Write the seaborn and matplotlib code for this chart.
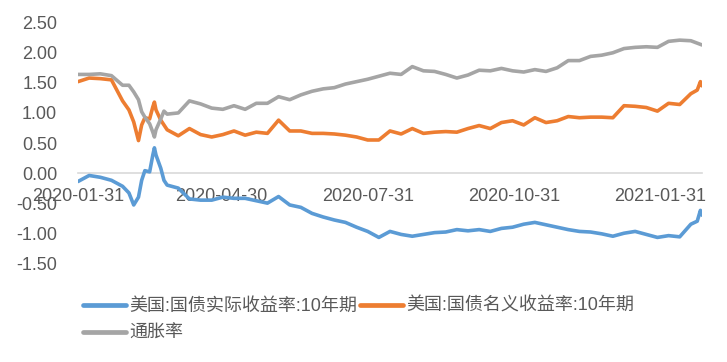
import pandas as pd
import matplotlib
matplotlib.use("Agg")
import matplotlib.pyplot as plt
import matplotlib.dates as mdates
import seaborn as sns

# data (weekly, denser around March 2020 and late Feb 2021)
dates = [
    '2020-01-31', '2020-02-07', '2020-02-14', '2020-02-21', '2020-02-28',
    '2020-03-03', '2020-03-06', '2020-03-09', '2020-03-11', '2020-03-13',
    '2020-03-16', '2020-03-18', '2020-03-19', '2020-03-20', '2020-03-23',
    '2020-03-25', '2020-03-27', '2020-04-03', '2020-04-10', '2020-04-17',
    '2020-04-24', '2020-05-01', '2020-05-08', '2020-05-15', '2020-05-22',
    '2020-05-29', '2020-06-05', '2020-06-12', '2020-06-19', '2020-06-26',
    '2020-07-03', '2020-07-10', '2020-07-17', '2020-07-24', '2020-07-31',
    '2020-08-07', '2020-08-14', '2020-08-21', '2020-08-28', '2020-09-04',
    '2020-09-11', '2020-09-18', '2020-09-25', '2020-10-02', '2020-10-09',
    '2020-10-16', '2020-10-23', '2020-10-30', '2020-11-06', '2020-11-13',
    '2020-11-20', '2020-11-27', '2020-12-04', '2020-12-11', '2020-12-18',
    '2020-12-25', '2021-01-01', '2021-01-08', '2021-01-15', '2021-01-22',
    '2021-01-29', '2021-02-05', '2021-02-12', '2021-02-19', '2021-02-23',
    '2021-02-25', '2021-02-26',
]

real_yield = [
    -0.14, -0.04, -0.07, -0.12, -0.22, -0.33, -0.53, -0.40, -0.12, 0.04,
    0.02, 0.30, 0.42, 0.30, 0.08, -0.12, -0.20, -0.25, -0.43, -0.45,
    -0.45, -0.40, -0.42, -0.42, -0.46, -0.50, -0.39, -0.53, -0.57, -0.67,
    -0.73, -0.78, -0.82, -0.90, -0.97, -1.07, -0.97, -1.02, -1.05, -1.02,
    -0.99, -0.98, -0.94, -0.96, -0.94, -0.97, -0.92, -0.90, -0.85, -0.82,
    -0.86, -0.90, -0.94, -0.97, -0.98, -1.01, -1.05, -1.00, -0.97, -1.02,
    -1.07, -1.04, -1.06, -0.85, -0.80, -0.62, -0.70,
]

nominal_yield = [
    1.52, 1.58, 1.57, 1.55, 1.20, 1.05, 0.85, 0.54, 0.80, 0.92,
    0.90, 1.10, 1.18, 1.05, 0.88, 0.80, 0.72, 0.62, 0.74, 0.64,
    0.60, 0.64, 0.70, 0.63, 0.68, 0.66, 0.88, 0.70, 0.70, 0.66,
    0.66, 0.65, 0.63, 0.60, 0.55, 0.55, 0.70, 0.65, 0.74, 0.66,
    0.68, 0.69, 0.68, 0.74, 0.79, 0.74, 0.84, 0.87, 0.80, 0.92,
    0.84, 0.87, 0.94, 0.92, 0.93, 0.93, 0.92, 1.12, 1.11, 1.09,
    1.03, 1.16, 1.14, 1.32, 1.38, 1.52, 1.45,
]

inflation = [
    1.64, 1.64, 1.65, 1.62, 1.46, 1.46, 1.35, 1.22, 1.02, 0.93,
    0.82, 0.68, 0.60, 0.72, 0.90, 1.03, 0.98, 1.00, 1.20, 1.15,
    1.08, 1.06, 1.12, 1.06, 1.16, 1.16, 1.27, 1.22, 1.30, 1.36,
    1.40, 1.42, 1.48, 1.52, 1.56, 1.61, 1.66, 1.64, 1.77, 1.70,
    1.69, 1.64, 1.58, 1.63, 1.71, 1.70, 1.74, 1.70, 1.68, 1.72,
    1.69, 1.75, 1.87, 1.87, 1.94, 1.96, 2.00, 2.07, 2.09, 2.10,
    2.09, 2.19, 2.21, 2.20, 2.16, 2.14, 2.13,
]

series_names = ['美国:国债实际收益率:10年期', '美国:国债名义收益率:10年期', '通胀率']
colors = ['#5B9BD5', '#ED7D31', '#A5A5A5']
tick_dates = ['2020-01-31', '2020-04-30', '2020-07-31', '2020-10-31', '2021-01-31']
y_ticks = [-1.5, -1.0, -0.5, 0.0, 0.5, 1.0, 1.5, 2.0, 2.5]

frames = []
for name, vals in zip(series_names, [real_yield, nominal_yield, inflation]):
    frames.append(pd.DataFrame({'date': pd.to_datetime(dates), 'value': vals, 'series': name}))
df = pd.concat(frames, ignore_index=True)

sns.set_style("white")
plt.rcParams['font.family'] = ['Liberation Sans', 'Noto Sans CJK SC', 'DejaVu Sans']
plt.rcParams['axes.unicode_minus'] = False

fig = plt.figure(figsize=(7.27, 3.62), dpi=100)
ax = fig.add_axes([78 / 727, 1 - 263.3 / 362, 624 / 727, 240.6 / 362])

sns.lineplot(data=df, x='date', y='value', hue='series', hue_order=series_names,
             palette=colors, linewidth=2.6, ax=ax)

ax.set_xlim(pd.Timestamp('2020-01-31'), pd.Timestamp('2021-02-26'))
ax.set_ylim(-1.5, 2.5)
ax.set_yticks(y_ticks)
ax.yaxis.set_major_formatter(matplotlib.ticker.FormatStrFormatter('%.2f'))
ax.set_xticks(pd.to_datetime(tick_dates))
ax.xaxis.set_major_formatter(mdates.DateFormatter('%Y-%m-%d'))
ax.set_xlabel('')
ax.set_ylabel('')

for s in ['top', 'right', 'left']:
    ax.spines[s].set_visible(False)
ax.spines['bottom'].set_position(('data', 0))
ax.spines['bottom'].set_color('#D9D9D9')
ax.spines['bottom'].set_linewidth(1.2)
ax.spines['bottom'].set_zorder(0.5)

ax.tick_params(axis='x', length=3, width=1, color='#D9D9D9', direction='out',
               pad=8, labelsize=13, labelcolor='#595959')
ax.tick_params(axis='y', length=0, pad=15, labelsize=13, labelcolor='#595959')

# legend: blue / orange on first row, grey on second
handles, labels = ax.get_legend_handles_labels()
ax.get_legend().remove()
order = [0, 2, 1]
leg = fig.legend([handles[i] for i in order], [labels[i] for i in order],
                 loc='upper left', bbox_to_anchor=(83 / 727, 1 - 298 / 362),
                 ncol=2, frameon=False, fontsize=13, handlelength=2.4,
                 handletextpad=0.17, columnspacing=0.15, labelspacing=0.55,
                 borderpad=0, borderaxespad=0)
for t in leg.get_texts():
    t.set_color('#595959')
for h in leg.legend_handles:
    h.set_linewidth(3.4)

fig.savefig('out.png', dpi=100)
